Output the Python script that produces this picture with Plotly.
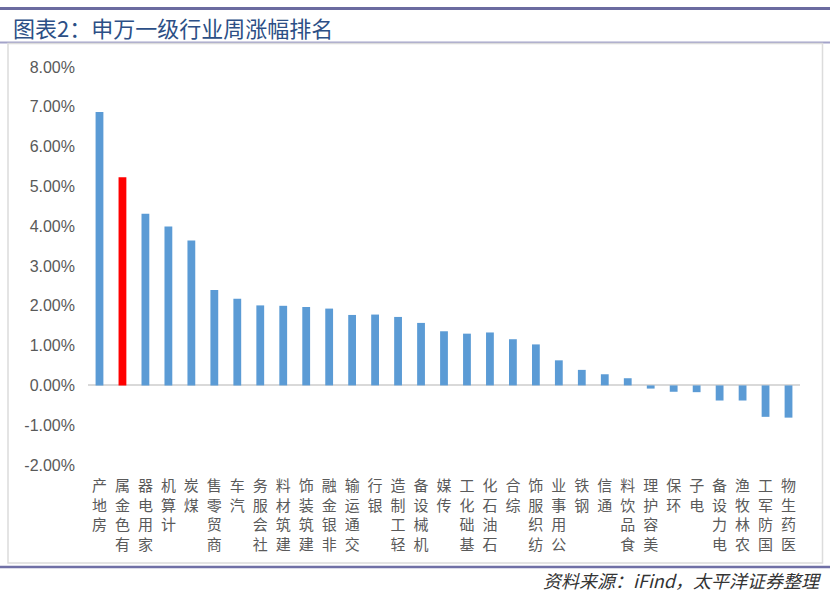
import plotly.graph_objects as go

W, H = 830, 592

categories = ["房地产", "有色金属", "家用电器", "计算机", "煤炭", "商贸零售", "汽车", "社会服务",
              "建筑材料", "建筑装饰", "非银金融", "交通运输", "银行", "轻工制造", "机械设备", "传媒",
              "基础化工", "石油石化", "综合", "纺织服饰", "公用事业", "钢铁", "通信", "食品饮料",
              "美容护理", "环保", "电子", "电力设备", "农林牧渔", "国防军工", "医药生物"]
weekly_change_pct = [6.87, 5.23, 4.31, 3.99, 3.64, 2.40, 2.18, 2.01,
                     2.00, 1.97, 1.93, 1.77, 1.78, 1.72, 1.57, 1.36,
                     1.30, 1.33, 1.16, 1.03, 0.63, 0.39, 0.28, 0.18,
                     -0.08, -0.16, -0.17, -0.38, -0.38, -0.79, -0.81]
highlight = "有色金属"
y_tickvals = [-2, -1, 0, 1, 2, 3, 4, 5, 6, 7, 8]
y_ticktext = ["-2.00%", "-1.00%", "0.00%", "1.00%", "2.00%", "3.00%", "4.00%",
              "5.00%", "6.00%", "7.00%", "8.00%"]

x_ticktext = ["<br>".join(reversed(c)) for c in categories]
colors = ["#ff0000" if c == highlight else "#5b9bd5" for c in categories]

def px(x):
    return x / W

def py(y):
    return 1 - y / H

fig = go.Figure()
fig.add_trace(go.Bar(x=categories, y=weekly_change_pct, marker=dict(color=colors, line=dict(width=0)),
                     width=0.34))

fig.update_layout(
    width=W, height=H, template="none",
    margin=dict(l=0, r=0, t=0, b=0, pad=0),
    paper_bgcolor="white", plot_bgcolor="white",
    showlegend=False,
    font=dict(family="Noto Sans CJK SC", color="#595959"),
    xaxis=dict(domain=[px(88), px(800)], automargin=False, showgrid=False, showline=False,
               zeroline=False, ticks="", tickmode="array", tickvals=categories, ticktext=x_ticktext,
               tickangle=0, tickfont=dict(size=15, color="#5a5a5a", family="Noto Sans CJK SC"),
               ticklabelstandoff=10),
    yaxis=dict(domain=[py(465), py(67)], range=[-2, 8], automargin=False, showgrid=False,
               showline=False, zeroline=True, zerolinecolor="#d9d9d9", zerolinewidth=1.5,
               tickmode="array", tickvals=y_tickvals, ticktext=y_ticktext, ticks="",
               tickfont=dict(size=16, color="#595959", family="Liberation Sans"),
               ticklabelstandoff=12),
)

shapes = [
    dict(type="line", xref="paper", yref="paper", x0=0, x1=1, y0=py(8.5), y1=py(8.5),
         line=dict(color="#6b6ba0", width=3)),
    dict(type="line", xref="paper", yref="paper", x0=0, x1=1, y0=py(42.5), y1=py(42.5),
         line=dict(color="#a3a3c9", width=2)),
    dict(type="rect", xref="paper", yref="paper", x0=px(8), x1=px(822.5), y0=py(563), y1=py(43.5),
         line=dict(color="#dcdcdc", width=1.5)),
    dict(type="line", xref="paper", yref="paper", x0=0, x1=1, y0=py(567), y1=py(567),
         line=dict(color="#7070a6", width=2.5)),
]
fig.update_layout(shapes=shapes)

fig.add_annotation(text="图表2：申万一级行业周涨幅排名", xref="paper", yref="paper",
                   x=px(11), y=py(27), xanchor="left", yanchor="middle", showarrow=False,
                   font=dict(size=22, color="#2c4f86", family="Noto Sans CJK SC"))
fig.add_annotation(text="<i>资料来源：iFind，太平洋证券整理</i>", xref="paper", yref="paper",
                   x=px(823), y=py(579.5), xanchor="right", yanchor="middle", showarrow=False,
                   borderpad=0,
                   font=dict(size=18, color="#333333", family="Noto Sans CJK SC"))

fig.write_html("out.html")
